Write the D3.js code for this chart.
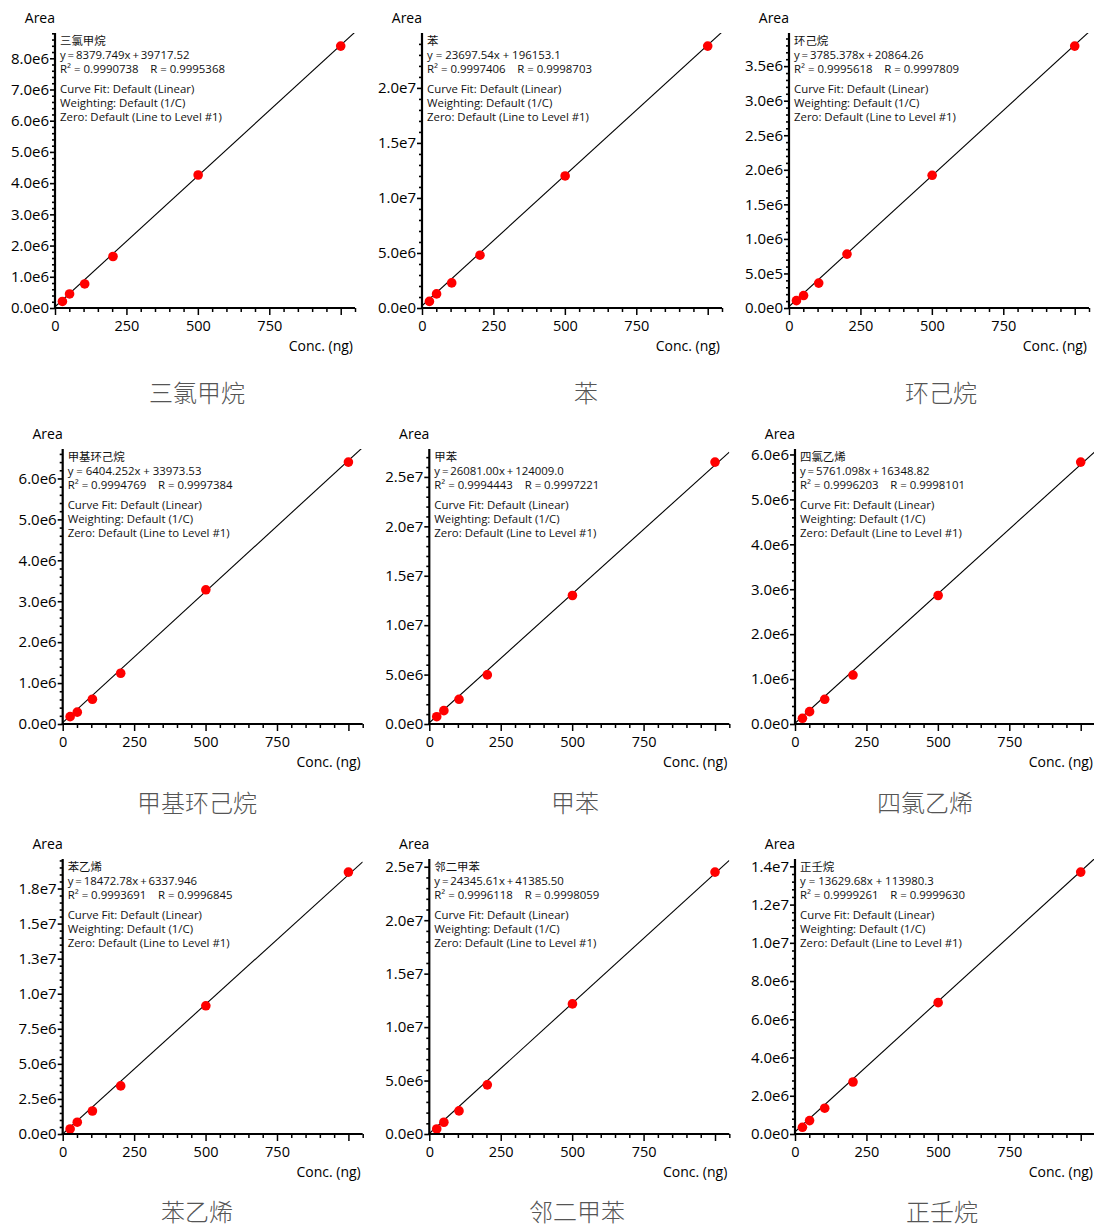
<!DOCTYPE html>
<html><head><meta charset="utf-8">
<script src="https://cdn.jsdelivr.net/npm/d3@7/dist/d3.min.js"></script>
<style>
body{margin:0;background:#fff}
svg{display:block}
text{font-family:"Open Sans","Noto Sans","Noto Sans CJK SC",sans-serif}
.cjk{font-family:"Noto Sans CJK SC",sans-serif}
</style></head><body>
<svg id="chart" width="1094" height="1227"></svg>
<script>
// ---------------- data ----------------
const compounds = ["三氯甲烷","苯","环己烷","甲基环己烷","甲苯","四氯乙烯","苯乙烯","邻二甲苯","正壬烷"];
const concentrations = [26, 51, 104, 203, 501, 1000];

const areaTrichloromethane = [0.21e6, 0.45e6, 0.77e6, 1.65e6, 4.26e6, 8.39e6];
const areaBenzene          = [0.60e6, 1.28e6, 2.28e6, 4.80e6, 12.0e6, 23.8e6];
const areaCyclohexane      = [0.106e6, 0.18e6, 0.36e6, 0.78e6, 1.92e6, 3.79e6];
const areaMethylcyclohexane= [0.18e6, 0.29e6, 0.605e6, 1.24e6, 3.28e6, 6.40e6];
const areaToluene          = [0.74e6, 1.35e6, 2.50e6, 4.97e6, 13.0e6, 26.5e6];
const areaTetrachloroethene= [0.127e6, 0.275e6, 0.55e6, 1.09e6, 2.86e6, 5.83e6];
const areaStyrene          = [0.36e6, 0.84e6, 1.64e6, 3.43e6, 9.14e6, 18.67e6];
const areaOXylene          = [0.47e6, 1.10e6, 2.16e6, 4.60e6, 12.17e6, 24.5e6];
const areaNonane           = [0.35e6, 0.70e6, 1.35e6, 2.72e6, 6.87e6, 13.7e6];
const areaSeries = [areaTrichloromethane, areaBenzene, areaCyclohexane, areaMethylcyclohexane,
  areaToluene, areaTetrachloroethene, areaStyrene, areaOXylene, areaNonane];

const slopeText     = ["8379.749","23697.54","3785.378","6404.252","26081.00","5761.098","18472.78","24345.61","13629.68"];
const interceptText = ["39717.52","196153.1","20864.26","33973.53","124009.0","16348.82","6337.946","41385.50","113980.3"];
const r2Text        = ["0.9990738","0.9997406","0.9995618","0.9994769","0.9994443","0.9996203","0.9993691","0.9996118","0.9999261"];
const rText         = ["0.9995368","0.9998703","0.9997809","0.9997384","0.9997221","0.9998101","0.9996845","0.9998059","0.9999630"];
const narrowSpacing = [true,false,true,false,true,true,true,true,false];

const yTickSteps = [1e6, 5e6, 5e5, 1e6, 5e6, 1e6, 2.5e6, 5e6, 2e6];
const xMajorTicks = [0, 250, 500, 750, 1000];
const xLabelledTicks = [0, 250, 500, 750];
const infoLines = ["Curve Fit: Default (Linear)", "Weighting: Default (1/C)", "Zero: Default (Line to Level #1)"];

// ---------------- layout ----------------
const colX = [[55, 422, 789], [62.7, 429.3, 795], [62.7, 429.3, 795]];
const rowTop = [33, 449, 859];
const plotW = 300, plotH = 275;
const titlePos = [[197,402],[586,402],[941,402],[197,812],[575,812],[925,812],[197,1221],[577,1221],[942,1221]];

const svg = d3.select("#chart");
const fmt = v => d3.format(".1e")(v).replace("+", "");

compounds.forEach((name, i) => {
  const row = Math.floor(i / 3), col = i % 3;
  const x0 = colX[row][col], y0 = rowTop[row];
  const areas = areaSeries[i];
  const slope = parseFloat(slopeText[i]), intercept = parseFloat(interceptText[i]);
  const xMax = 1050, yMax = d3.max(areas) * 1.05;
  const x = d3.scaleLinear().domain([0, xMax]).range([0, plotW]);
  const y = d3.scaleLinear().domain([0, yMax]).range([plotH, 0]);

  const g = svg.append("g").attr("transform", `translate(${x0},${y0})`);
  const clipId = "clip" + i;
  g.append("clipPath").attr("id", clipId).append("rect")
    .attr("x", 0).attr("y", 0).attr("width", plotW).attr("height", plotH);

  // fit line
  g.append("line").attr("clip-path", `url(#${clipId})`)
    .attr("x1", x(0)).attr("y1", y(intercept))
    .attr("x2", x(xMax)).attr("y2", y(slope * xMax + intercept))
    .attr("stroke", "#000").attr("stroke-width", 1.1);

  // points
  g.selectAll("circle.pt").data(concentrations.map((c, k) => [c, areas[k]]))
    .enter().append("circle").attr("class", "pt")
    .attr("cx", d => x(d[0])).attr("cy", d => y(d[1])).attr("r", 4.8)
    .attr("fill", "#f00");

  // x axis
  const xMinor = d3.range(0, xMax + 1, 50).filter(v => v % 250 !== 0);
  const xAxisG = g.append("g").attr("transform", `translate(0,${plotH})`);
  xAxisG.append("g").call(d3.axisBottom(x).tickValues(xMinor).tickSize(4).tickFormat(""))
    .call(a => a.select(".domain").remove())
    .selectAll("line").attr("stroke-width", 1.5);
  xAxisG.append("g").call(d3.axisBottom(x).tickValues(xMajorTicks).tickSize(7)
      .tickFormat(v => xLabelledTicks.includes(v) ? v : ""))
    .call(a => a.select(".domain").remove())
    .call(a => a.selectAll("line").attr("stroke-width", 1.5))
    .call(a => a.selectAll("text").attr("font-size", 14.5).attr("fill", "#000").attr("dy", "0.9em"));
  xAxisG.append("line").attr("x1", -1).attr("x2", plotW).attr("stroke", "#000").attr("stroke-width", 2.2);

  // y axis
  const step = yTickSteps[i];
  const yMajor = d3.range(0, yMax + 1, step);
  const yMinor = d3.range(0, yMax, step / 5).filter((v, k) => k % 5 !== 0);
  g.append("g").call(d3.axisLeft(y).tickValues(yMinor).tickSize(3).tickFormat(""))
    .call(a => a.select(".domain").remove())
    .selectAll("line").attr("stroke-width", 1.6);
  g.append("g").call(d3.axisLeft(y).tickValues(yMajor).tickSize(5).tickFormat(fmt))
    .call(a => a.select(".domain").remove())
    .call(a => a.selectAll("line").attr("stroke-width", 1.6))
    .call(a => a.selectAll("text").attr("font-size", 15).attr("fill", "#000").attr("x", -6));
  g.append("line").attr("x1", 0).attr("x2", 0).attr("y1", 0).attr("y2", plotH + 1)
    .attr("stroke", "#000").attr("stroke-width", 2.2);

  // axis titles
  g.append("text").attr("x", 0).attr("y", -10).attr("text-anchor", "end")
    .attr("font-size", 14).attr("fill", "#000").text("Area");
  g.append("text").attr("x", plotW - 2).attr("y", plotH + 43).attr("text-anchor", "end")
    .attr("font-size", 14).attr("fill", "#000").text("Conc. (ng)");

  // annotation
  const sp = narrowSpacing[i] ? "\u2009" : " ";
  const ann = g.append("text").attr("x", 5).attr("font-size", 11.4).attr("fill", "#111")
    .attr("xml:space", "preserve").style("white-space", "pre");
  const lines = [
    [name, 12], [`y${sp}=${sp}${slopeText[i]}x${sp}+${sp}${interceptText[i]}`, 26],
    [`R² = ${r2Text[i]}    R = ${rText[i]}`, 40],
    [infoLines[0], 60], [infoLines[1], 74], [infoLines[2], 88]
  ];
  lines.forEach(([t, dy]) => ann.append("tspan").attr("x", 5).attr("y", dy).text(t));

  // chart title
  svg.append("text").attr("class", "cjk")
    .attr("x", titlePos[i][0]).attr("y", titlePos[i][1]).attr("text-anchor", "middle")
    .attr("font-size", 24).attr("font-weight", 300).attr("fill", "#555").text(name);
});
</script>
</body></html>
